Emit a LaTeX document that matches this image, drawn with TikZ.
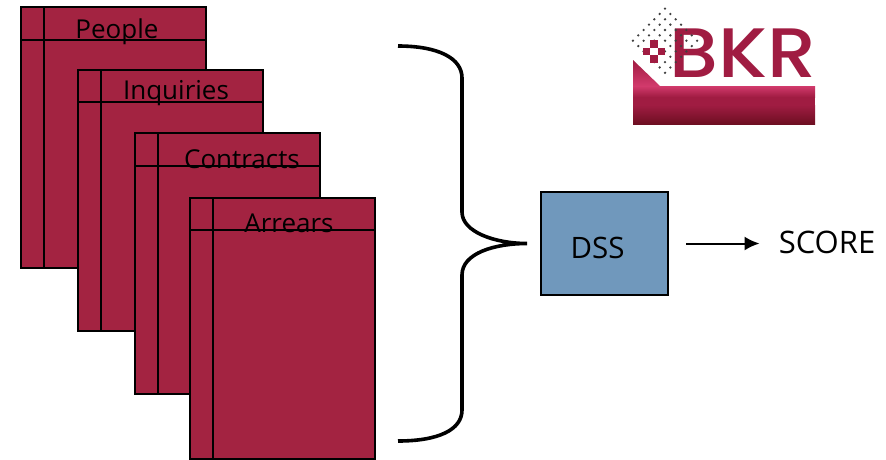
\documentclass[tikz,border=0pt]{standalone}
\usepackage{fontspec}
\setmainfont{Open Sans}
\newfontfamily\logofont{Poppins Medium}
\usetikzlibrary{positioning, calc, arrows.meta}

\definecolor{tablered}{HTML}{A32341}
\definecolor{dssblue}{HTML}{7098BC}
\definecolor{logored}{HTML}{A01C42}
\definecolor{logobright}{HTML}{D23A6C}
\definecolor{logodark}{HTML}{6E0F22}

\tikzset{
  tablebox/.style={draw=black, fill=tablered, line width=1.8pt, inner sep=0pt, outer sep=0pt,
    minimum width=185pt, minimum height=261pt, anchor=north west},
  tableline/.style={black, line width=1.5pt},
  tablelabel/.style={font=\fontsize{26}{26}\selectfont, inner sep=0pt, anchor=base},
  dssbox/.style={draw=black, fill=dssblue, line width=1.6pt, inner sep=0pt, outer sep=0pt,
    minimum width=127pt, minimum height=103pt},
}

\begin{document}
\begin{tikzpicture}[x=1pt, y=-1pt]
        \useasboundingbox (0,0) rectangle (886,459);

        % tables, back to front
        \foreach \tname/\tx/\ty/\ttext/\lx/\ly/\hy in {
            people/21/7/People/96/31/33,
            inquiries/78/70/Inquiries/98/29/32,
            contracts/135/133/Contracts/107/35/33,
            arrears/190/198/Arrears/99/34/32}
        {
            \node[tablebox] (\tname) at (\tx,\ty) {};
            \draw[tableline] ($ (\tname.north west) + (23,0) $) -- ($ (\tname.south west) + (23,0) $);
            \draw[tableline] ($ (\tname.north west) + (0,\hy) $) -- ($ (\tname.north east) + (0,\hy) $);
            \node[tablelabel] (\tname label) at ($ (\tname.north west) + (\lx,\ly) $) {\ttext};
        }

        % brace
        \coordinate (btop) at (398,46);
        \coordinate (bupper) at (462,78);
        \coordinate (bmidup) at (462,212);
        \coordinate (btip) at (527,243.5);
        \coordinate (bmidlow) at (462,275);
        \coordinate (blower) at (462,410);
        \coordinate (bbottom) at (398,441);
        \draw[line width=3.6pt] (btop) .. controls (438,46) and (462,58) .. (bupper) -- (bmidup)
            .. controls (462,232) and (495,243.5) .. (btip)
            .. controls (495,243.5) and (462,253) .. (bmidlow) -- (blower)
            .. controls (462,430) and (438,441) .. (bbottom);

        \node[dssbox] (dss) at (604.5,243.5) {};
        \node[font=\fontsize{29.5}{30}\selectfont, inner sep=0pt, anchor=base] (dsslabel) at (597.5,258) {DSS};
        \node[font=\fontsize{31}{31}\selectfont, inner sep=0pt, anchor=base] (score) at (827,253) {SCORE};
        \draw[line width=2pt, -{Latex[length=15pt, width=14pt]}, shorten <=18pt, shorten >=19pt]
            (dss.east) -- (dss.east -| score.west);

        % logo
        \node[font=\logofont\fontsize{70}{70}\selectfont, text=logored, inner sep=0pt, anchor=base west, xscale=1.11] (bkr) at (669.5,77) {BKR};
        \shade[top color=logored, bottom color=logobright] (633,60) -- (660,86) -- (633,86) -- cycle;
        \shade[top color=logobright, bottom color=logored] (633,86) rectangle (815,97);
        \fill[logored] (633,97) rectangle (815,105);
        \shade[top color=logored, bottom color=logodark] (633,105) rectangle (815,124);

        \foreach \i in {-6,...,6} \foreach \j in {-6,...,6} {
            \pgfmathtruncatemacro{\keep}{(abs(\i)+abs(\j)<=6) && (mod(abs(\i+\j),2)==0) && !((abs(\i+2)<=1) && (abs(\j-2)<=1))}
            \ifnum\keep=1
              \fill[black!75] ({665+\i*5.35},{40.7+\j*5.35}) circle (1.3pt);
            \fi
        }
        \fill[logored] (650,40) rectangle (658,48);   %top
        \fill[logored] (643,48) rectangle (650,55);   %left
        \fill[logored] (658,48) rectangle (665,55);   %right
        \fill[logored] (650,55) rectangle (658,63);   %bottom
\end{tikzpicture}
\end{document}
